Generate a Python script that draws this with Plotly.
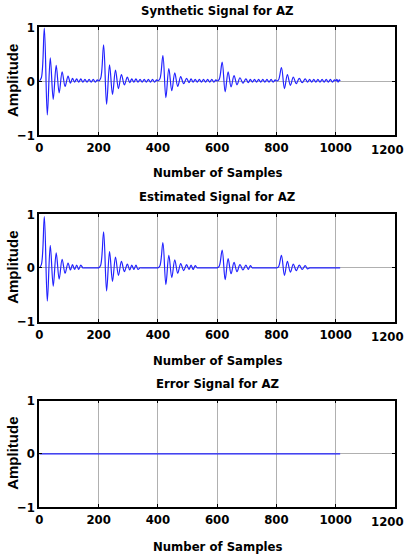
import plotly.graph_objects as go

# ---------------- data ----------------
pulse_starts = [0, 200, 400, 600, 800]
# sample offsets of the extrema inside one pulse
pulse_offsets = [0, 7, 17, 27, 37, 47, 57, 67, 77, 87, 97, 105, 112, 119, 126,
                 133, 140, 147, 154, 161, 168, 175, 182, 189, 196]

synthetic_pulses = [
    [0, 0.06, 0.98, -0.63, 0.43, -0.34, 0.29, -0.22, 0.17, -0.10, 0.09, -0.04, 0.05,
     -0.02, 0.04, -0.02, 0.04, -0.02, 0.03, -0.02, 0.03, -0.02, 0.03, -0.02, 0.02],
    [0, 0.05, 0.67, -0.43, 0.30, -0.25, 0.20, -0.14, 0.12, -0.07, 0.07, -0.03, 0.04,
     -0.02, 0.04, -0.02, 0.03, -0.02, 0.03, -0.02, 0.03, -0.02, 0.03, -0.02, 0.02],
    [0, 0.04, 0.47, -0.31, 0.23, -0.18, 0.15, -0.10, 0.08, -0.05, 0.05, -0.03, 0.04,
     -0.02, 0.03, -0.02, 0.03, -0.02, 0.03, -0.02, 0.03, -0.02, 0.03, -0.02, 0.02],
    [0, 0.03, 0.35, -0.20, 0.17, -0.11, 0.10, -0.07, 0.06, -0.04, 0.04, -0.03, 0.03,
     -0.02, 0.03, -0.02, 0.03, -0.02, 0.03, -0.02, 0.03, -0.02, 0.03, -0.02, 0.02],
    [0, 0.02, 0.25, -0.14, 0.12, -0.08, 0.07, -0.05, 0.05, -0.03, 0.04, -0.02, 0.03,
     -0.02, 0.03, -0.02, 0.03, -0.02, 0.03, -0.02, 0.03, -0.02, 0.03, -0.02, 0.02],
]
estimated_pulses = [
    [0, 0.06, 0.95, -0.62, 0.42, -0.34, 0.28, -0.21, 0.16, -0.10, 0.09, -0.04, 0.06,
     -0.03, 0.05, -0.03, 0.05, 0, 0, 0, 0, 0, 0, 0, 0],
    [0, 0.05, 0.67, -0.43, 0.30, -0.25, 0.20, -0.14, 0.12, -0.07, 0.07, -0.04, 0.05,
     -0.03, 0.05, -0.03, 0, 0, 0, 0, 0, 0, 0, 0, 0],
    [0, 0.04, 0.47, -0.31, 0.23, -0.18, 0.15, -0.10, 0.08, -0.05, 0.06, -0.03, 0.05,
     -0.03, 0.04, 0, 0, 0, 0, 0, 0, 0, 0, 0, 0],
    [0, 0.03, 0.33, -0.22, 0.17, -0.11, 0.10, -0.07, 0.06, -0.04, 0.05, -0.03, 0.04,
     0, 0, 0, 0, 0, 0, 0, 0, 0, 0, 0, 0],
    [0, 0.02, 0.23, -0.14, 0.12, -0.08, 0.07, -0.05, 0.05, -0.03, 0.04, -0.02, 0,
     0, 0, 0, 0, 0, 0, 0, 0, 0, 0, 0, 0],
]
synthetic_tail_x = [1000, 1004, 1008, 1012, 1015]
synthetic_tail_y = [0, 0.03, -0.02, 0.02, 0]
estimated_tail_x = [1000, 1015]
estimated_tail_y = [0, 0]

error_x = [0, 1015]
error_y = [0, 0]

titles = ["Synthetic Signal for AZ", "Estimated Signal for AZ", "Error Signal for AZ"]
x_label = "Number of Samples"
y_label = "Amplitude"
x_ticks = [0, 200, 400, 600, 800, 1000, 1200]
x_tick_text = ["0", "200", "400", "600", "800", "1000", "1200"]
y_ticks = [-1, 0, 1]

# ---------------- build series ----------------
def assemble(pulses, tail_x, tail_y):
    xs, ys = [], []
    for s, vals in zip(pulse_starts, pulses):
        for o, v in zip(pulse_offsets, vals):
            xs.append(s + o)
            ys.append(v)
    xs += tail_x
    ys += tail_y
    return xs, ys

syn_x, syn_y = assemble(synthetic_pulses, synthetic_tail_x, synthetic_tail_y)
est_x, est_y = assemble(estimated_pulses, estimated_tail_x, estimated_tail_y)

W, H = 407, 557
x0_px, x1_px = 39.3, 395.0
panels_px = [(27.0, 135.0), (214.0, 321.7), (400.7, 507.0)]
title_px = [10.5, 196.0, 383.0]
xlabel_px = [172.5, 360.0, 546.0]

line_color = "#2222ff"
narrow = "DejaVu Sans Condensed, Liberation Sans Narrow, sans-serif"
tick_font = dict(family=narrow, size=13, color="black", weight="bold")
label_font = dict(family=narrow, size=13, color="black", weight="bold")

fig = go.Figure()
series = [(syn_x, syn_y), (est_x, est_y), (error_x, error_y)]
for i, (xs, ys) in enumerate(series):
    suffix = "" if i == 0 else str(i + 1)
    fig.add_trace(go.Scatter(
        x=xs, y=ys, mode="lines",
        line=dict(color=line_color, width=1.2, shape="spline", smoothing=1.0),
        xaxis="x" + suffix, yaxis="y" + suffix, showlegend=False, hoverinfo="skip"))

dom_x = [x0_px / W, x1_px / W]
for i, (top, bot) in enumerate(panels_px):
    suffix = "" if i == 0 else str(i + 1)
    ax = dict(
        domain=dom_x, range=[0, 1200], tickvals=x_ticks,
        ticktext=x_tick_text[:-1] + [""],
        automargin=False,
        showgrid=True, gridcolor="#b0b0b0", gridwidth=1, zeroline=False,
        showline=True, linecolor="black", linewidth=1.5, mirror="ticks",
        ticks="inside", ticklen=3, tickcolor="black",
        tickfont=tick_font, anchor="y" + suffix, fixedrange=True)
    ay = dict(
        domain=[1 - bot / H, 1 - top / H], range=[-1, 1], tickvals=y_ticks,
        automargin=False,
        showgrid=True, gridcolor="#b0b0b0", gridwidth=1, zeroline=False,
        showline=True, linecolor="black", linewidth=1.5, mirror="ticks",
        ticks="inside", ticklen=3, tickcolor="black",
        tickfont=tick_font, anchor="x" + suffix, fixedrange=True)
    fig.layout["xaxis" + suffix] = ax
    fig.layout["yaxis" + suffix] = ay

    # last x tick label, kept inside the page, aligned with the other tick labels
    fig.add_annotation(text=x_tick_text[-1], x=406 / W, y=1 - (bot + 14.5) / H,
                       xref="paper", yref="paper", showarrow=False,
                       xanchor="right", yanchor="middle", font=tick_font)

    cx = (x0_px + x1_px) / 2 / W
    fig.add_annotation(text=titles[i], x=cx, y=1 - title_px[i] / H, xref="paper", yref="paper",
                       showarrow=False, xanchor="center", yanchor="middle", font=label_font)
    fig.add_annotation(text=x_label, x=cx, y=1 - xlabel_px[i] / H, xref="paper", yref="paper",
                       showarrow=False, xanchor="center", yanchor="middle", font=label_font)
    fig.add_annotation(text=y_label, x=13 / W, y=1 - (top + bot) / 2 / H, xref="paper", yref="paper",
                       showarrow=False, xanchor="center", yanchor="middle", textangle=-90,
                       font=dict(family="Liberation Sans, Arial, sans-serif", size=15,
                                 color="black", weight="bold"))

fig.update_layout(width=W, height=H, margin=dict(l=0, r=0, t=0, b=0, autoexpand=False),
                  paper_bgcolor="white", plot_bgcolor="white")
fig.write_html("out.html")
